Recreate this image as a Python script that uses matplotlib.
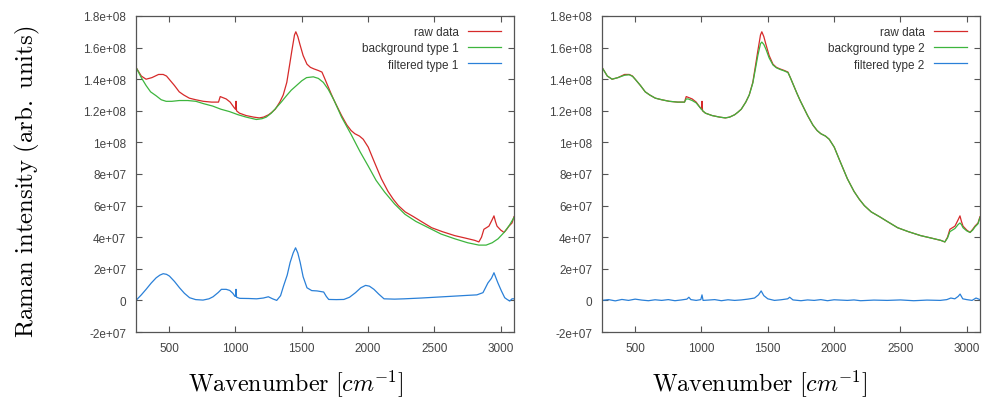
import numpy as np
import matplotlib
matplotlib.use("Agg")
import matplotlib.pyplot as plt
from matplotlib.ticker import FuncFormatter

plt.rcParams['mathtext.fontset'] = 'cm'
plt.rcParams['font.family'] = ['Liberation Sans', 'DejaVu Sans']

# values in units of 1e7 (arb. units)
raw_wn = [250, 290, 326, 370, 420, 455, 480, 500, 540, 576, 610, 652, 700, 758, 820, 872,
          885, 900, 930, 960, 990, 1000, 1004, 1008, 1030, 1080, 1137, 1180, 1212, 1250,
          1273, 1300, 1334, 1360, 1387, 1410, 1425, 1445, 1455, 1470, 1486, 1510, 1539,
          1565, 1592, 1625, 1652, 1670, 1690, 1720, 1744, 1800, 1840, 1872, 1900, 1935,
          1963, 2001, 2040, 2070, 2100, 2150, 2190, 2228, 2280, 2342, 2400, 2479, 2560,
          2653, 2730, 2804, 2835, 2855, 2873, 2911, 2935, 2949, 2960, 2972, 3000, 3025,
          3045, 3062, 3085, 3100]
raw_val = [14.75, 14.2, 14.0, 14.1, 14.3, 14.3, 14.2, 14.0, 13.6, 13.2, 13.0, 12.8, 12.7,
           12.6, 12.55, 12.55, 12.9, 12.85, 12.75, 12.55, 12.2, 12.1, 12.6, 12.0, 11.85,
           11.7, 11.6, 11.55, 11.6, 11.75, 11.9, 12.1, 12.55, 13.0, 13.8, 15.0, 15.8,
           16.8, 17.0, 16.7, 16.2, 15.5, 14.95, 14.75, 14.65, 14.55, 14.45, 14.1, 13.7,
           13.1, 12.65, 11.7, 11.1, 10.75, 10.55, 10.4, 10.2, 9.7, 8.9, 8.3, 7.7, 6.9,
           6.4, 6.0, 5.6, 5.3, 5.0, 4.6, 4.35, 4.1, 3.95, 3.8, 3.7, 4.0, 4.5, 4.7, 5.1,
           5.35, 5.0, 4.7, 4.45, 4.3, 4.5, 4.7, 4.9, 5.3]

bg1_wn = [250, 290, 326, 360, 402, 440, 477, 520, 576, 640, 702, 760, 828, 890, 955, 1020,
          1081, 1157, 1200, 1232, 1270, 1308, 1345, 1384, 1420, 1460, 1500, 1536, 1587,
          1625, 1662, 1700, 1744, 1800, 1872, 1940, 2001, 2060, 2125, 2200, 2278, 2360,
          2455, 2550, 2653, 2750, 2835, 2890, 2936, 2980, 3025, 3065, 3100]
bg1_val = [14.75, 14.1, 13.6, 13.2, 12.95, 12.7, 12.6, 12.6, 12.65, 12.65, 12.6, 12.45,
           12.3, 12.1, 11.95, 11.75, 11.6, 11.45, 11.5, 11.6, 11.85, 12.2, 12.55, 12.95,
           13.3, 13.6, 13.9, 14.1, 14.15, 14.05, 13.8, 13.35, 12.65, 11.6, 10.5, 9.4,
           8.5, 7.6, 6.85, 6.1, 5.45, 5.0, 4.6, 4.2, 3.9, 3.65, 3.5, 3.5, 3.65, 3.9, 4.3,
           4.75, 5.25]

filt1_wn = [250, 290, 326, 365, 402, 430, 455, 480, 502, 540, 578, 615, 654, 700, 755, 800,
            831, 870, 894, 930, 957, 980, 995, 1000, 1004, 1008, 1032, 1100, 1159, 1210,
            1248, 1280, 1311, 1340, 1362, 1390, 1412, 1435, 1453, 1470, 1488, 1510, 1539,
            1575, 1615, 1650, 1665, 1685, 1703, 1760, 1817, 1860, 1905, 1945, 1981, 2010,
            2044, 2080, 2120, 2200, 2272, 2400, 2525, 2650, 2752, 2820, 2866, 2885, 2903,
            2930, 2949, 2965, 2979, 3005, 3030, 3050, 3068, 3085, 3100]
filt1_val = [0.0, 0.35, 0.7, 1.1, 1.43, 1.6, 1.69, 1.65, 1.54, 1.2, 0.8, 0.45, 0.17, 0.05,
             0.02, 0.1, 0.23, 0.5, 0.7, 0.7, 0.63, 0.45, 0.27, 0.25, 0.7, 0.2, 0.13, 0.12,
             0.1, 0.15, 0.23, 0.1, 0.0, 0.3, 0.9, 1.6, 2.4, 3.0, 3.33, 3.0, 2.4, 1.5, 0.8,
             0.62, 0.6, 0.55, 0.53, 0.25, 0.06, 0.05, 0.06, 0.2, 0.49, 0.8, 0.95, 0.9,
             0.7, 0.4, 0.1, 0.08, 0.1, 0.15, 0.21, 0.27, 0.32, 0.35, 0.49, 0.8, 1.1, 1.4,
             1.75, 1.4, 1.1, 0.6, 0.17, 0.05, -0.04, 0.1, 0.1]

bg2_wn = [250, 290, 326, 370, 420, 455, 480, 500, 540, 576, 610, 652, 700, 758, 820, 872,
          885, 900, 930, 960, 990, 1010, 1030, 1080, 1137, 1180, 1212, 1250, 1273, 1300,
          1334, 1360, 1387, 1410, 1425, 1445, 1455, 1470, 1486, 1510, 1539, 1565, 1592,
          1625, 1652, 1670, 1690, 1720, 1744, 1800, 1840, 1872, 1900, 1935, 1963, 2001,
          2040, 2070, 2100, 2150, 2190, 2228, 2280, 2342, 2400, 2479, 2560, 2653, 2730,
          2804, 2835, 2855, 2873, 2911, 2935, 2949, 2960, 2972, 3000, 3025, 3045, 3062,
          3085, 3100]
bg2_val = [14.75, 14.2, 14.0, 14.1, 14.25, 14.28, 14.18, 14.0, 13.6, 13.2, 13.0, 12.8,
           12.7, 12.6, 12.55, 12.55, 12.75, 12.75, 12.65, 12.5, 12.2, 12.0, 11.85, 11.7,
           11.6, 11.55, 11.6, 11.75, 11.9, 12.1, 12.55, 13.0, 13.75, 14.8, 15.5, 16.25,
           16.35, 16.2, 15.9, 15.35, 14.9, 14.72, 14.62, 14.52, 14.42, 14.1, 13.7, 13.1,
           12.65, 11.7, 11.1, 10.75, 10.55, 10.4, 10.2, 9.7, 8.9, 8.3, 7.7, 6.9, 6.4,
           6.0, 5.6, 5.3, 5.0, 4.6, 4.35, 4.1, 3.95, 3.8, 3.7, 3.95, 4.35, 4.55, 4.8,
           4.9, 4.8, 4.6, 4.4, 4.3, 4.45, 4.65, 4.85, 5.25]

filt2_wn = [250, 300, 350, 400, 450, 500, 550, 600, 650, 700, 750, 800, 850, 890, 905, 920,
            960, 995, 1004, 1012, 1050, 1100, 1150, 1200, 1250, 1300, 1350, 1400, 1430,
            1450, 1470, 1500, 1550, 1600, 1650, 1665, 1690, 1750, 1800, 1850, 1900, 1950,
            2000, 2050, 2100, 2150, 2200, 2300, 2400, 2500, 2600, 2700, 2800, 2850, 2880,
            2910, 2935, 2950, 2970, 3000, 3040, 3070, 3100]
filt2_val = [0.0, 0.05, -0.03, 0.06, 0.0, 0.08, 0.02, -0.02, 0.04, 0.0, 0.05, -0.02, 0.03,
             0.08, 0.2, 0.05, 0.0, 0.05, 0.35, 0.0, 0.02, 0.05, -0.02, 0.04, 0.0, 0.03,
             0.08, 0.15, 0.35, 0.6, 0.3, 0.1, 0.0, 0.04, 0.1, 0.2, 0.03, -0.02, 0.03, 0.0,
             0.05, -0.02, 0.04, 0.02, 0.0, 0.03, -0.02, 0.02, 0.0, 0.03, -0.02, 0.02, 0.0,
             0.05, 0.15, 0.1, 0.25, 0.4, 0.1, 0.05, 0.0, 0.15, 0.05]

x_ticks = [500, 1000, 1500, 2000, 2500, 3000]
y_ticks = [-2e7, 0, 2e7, 4e7, 6e7, 8e7, 1e8, 1.2e8, 1.4e8, 1.6e8, 1.8e8]

c_raw = '#d62a2a'
c_bg = '#3db53d'
c_filt = '#2a80d8'
c_ax = '#555555'

fig = plt.figure(figsize=(9.82, 4.06), dpi=100)
ax1 = fig.add_axes([136/982, 1 - 333/406, 378/982, 316/406])
ax2 = fig.add_axes([602/982, 1 - 333/406, 378/982, 316/406])

panels = [
    (ax1, bg1_wn, bg1_val, filt1_wn, filt1_val, 'background type 1', 'filtered type 1'),
    (ax2, bg2_wn, bg2_val, filt2_wn, filt2_val, 'background type 2', 'filtered type 2'),
]

for ax, bwn, bval, fwn, fval, blab, flab in panels:
    ax.plot(raw_wn, np.array(raw_val) * 1e7, color=c_raw, lw=0.9, label='raw data')
    ax.plot(bwn, np.array(bval) * 1e7, color=c_bg, lw=0.9, label=blab)
    ax.plot(fwn, np.array(fval) * 1e7, color=c_filt, lw=0.9, label=flab)
    ax.set_xlim(250, 3100)
    ax.set_ylim(-2e7, 1.8e8)
    ax.set_xticks(x_ticks)
    ax.set_yticks(y_ticks)
    ax.yaxis.set_major_formatter(FuncFormatter(lambda v, p: '%g' % v))
    ax.tick_params(direction='in', length=4, width=0.8, color=c_ax, labelcolor='#444444',
                   labelsize=8.5, top=True, right=True, pad=7)
    for s in ax.spines.values():
        s.set_color(c_ax)
        s.set_linewidth(0.9)
    leg = ax.legend(loc='upper right', bbox_to_anchor=(0.985, 0.99), frameon=False,
                    markerfirst=False, fontsize=8.5, handlelength=2.8, handletextpad=0.8,
                    labelspacing=0.35, borderaxespad=0.2)
    for t in leg.get_texts():
        t.set_color('#333333')

fig.text(27/982, 1 - 182/406, r'$\mathrm{Raman\ intensity\ (arb.\ units)}$', rotation=90,
         ha='center', va='center', fontsize=17.8)
fig.text(296/982, 1 - 384/406, r'$\mathrm{Wavenumber}\ [cm^{-1}]$', ha='center',
         va='center', fontsize=17.3)
fig.text(760/982, 1 - 384/406, r'$\mathrm{Wavenumber}\ [cm^{-1}]$', ha='center',
         va='center', fontsize=17.3)

fig.savefig('out.png', dpi=100)
